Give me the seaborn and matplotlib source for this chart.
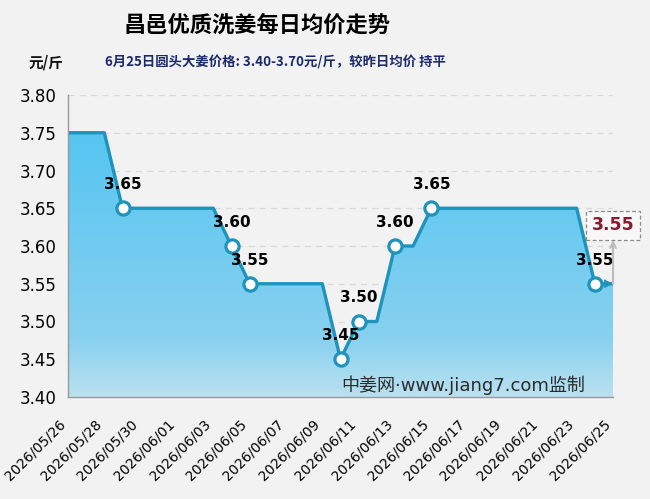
import numpy as np
import pandas as pd
import matplotlib
matplotlib.use("Agg")
import matplotlib.pyplot as plt
import matplotlib.dates as mdates
import matplotlib.transforms as mtrans
from matplotlib.colors import LinearSegmentedColormap
from matplotlib.patches import Polygon
import seaborn as sns

# ---------------- data ----------------
dates = pd.date_range("2026-05-26", "2026-06-25", freq="D")
prices = [3.75, 3.75, 3.75,
          3.65, 3.65, 3.65, 3.65, 3.65, 3.65,
          3.60,
          3.55, 3.55, 3.55, 3.55, 3.55,
          3.45,
          3.50, 3.50,
          3.60, 3.60,
          3.65, 3.65, 3.65, 3.65, 3.65, 3.65, 3.65, 3.65, 3.65,
          3.55, 3.55]
y_ticks = [3.40, 3.45, 3.50, 3.55, 3.60, 3.65, 3.70, 3.75, 3.80]
title = "昌邑优质洗姜每日均价走势"
unit_label = "元/斤"
subtitle = "6月25日圆头大姜价格: 3.40-3.70元/斤，较昨日均价 持平"
watermark = "中姜网·www.jiang7.com监制"
latest_value = 3.55

df = pd.DataFrame({"date": dates, "price": prices})

# ---------------- style ----------------
sns.set_style("white")
CJK = ["Noto Sans CJK SC", "DejaVu Sans"]
NUM = ["DejaVu Sans", "Noto Sans CJK SC"]
plt.rcParams["font.family"] = NUM
BG = "#f2f2f2"
LINE = "#1e94bd"

fig = plt.figure(figsize=(6.5, 4.99), dpi=100, facecolor=BG)
ax = fig.add_axes([68 / 650, 1 - 397 / 499, 545 / 650, 302 / 499])
ax.set_facecolor(BG)

xnum = mdates.date2num(df["date"])
x0, x1 = xnum[0], xnum[-1]
ax.set_xlim(x0, x1)
ax.set_ylim(y_ticks[0], y_ticks[-1])

# gradient fill under the line
cmap = LinearSegmentedColormap.from_list(
    "g", [(0.0, "#b9e1f0"), (0.2, "#87d0ef"), (1.0, "#4cc4f2")])
grad = np.linspace(0, 1, 256).reshape(-1, 1)
im = ax.imshow(grad, cmap=cmap, origin="lower", aspect="auto",
               extent=[x0, x1, y_ticks[0], y_ticks[-1]], zorder=1)
poly_xy = np.column_stack([np.r_[xnum, xnum[-1], xnum[0]],
                           np.r_[prices, y_ticks[0], y_ticks[0]]])
clip = Polygon(poly_xy, closed=True, transform=ax.transData, fc="none", ec="none")
ax.add_patch(clip)
im.set_clip_path(clip)

# grid
for yv in y_ticks[1:]:
    ax.axhline(yv, color="#d9d9d9", lw=0.9, ls=(0, (5, 4)), zorder=0.5)

# line
sns.lineplot(data=df, x="date", y="price", ax=ax, color=LINE, lw=2.4, zorder=3)

# end arrow head
ax.annotate("", xy=(xnum[-1], prices[-1]), xytext=(xnum[-2], prices[-2]),
            arrowprops=dict(arrowstyle="-|>", color=LINE, lw=0, mutation_scale=16,
                            shrinkA=0, shrinkB=0), zorder=4, annotation_clip=False)

# markers where price changed + labels
chg = [i for i in range(1, len(prices)) if prices[i] != prices[i - 1]]
ax.plot(xnum[chg], np.array(prices)[chg], "o", ms=9.5, mfc="white", mec=LINE,
        mew=2.3, zorder=5, clip_on=False)
for i in chg:
    ax.annotate(f"{prices[i]:.2f}", (xnum[i], prices[i]), xytext=(0, 17),
                textcoords="offset points", ha="center", va="center",
                fontsize=11, fontweight="bold", color="black", zorder=6)

# latest value box
ax.annotate(f"{latest_value:.2f}", xy=(xnum[-1], latest_value), xytext=(0, 42),
            textcoords="offset points", ha="center", va="center",
            fontsize=12.5, fontweight="bold", color="#8b1a2c",
            bbox=dict(boxstyle="square,pad=0.3", fc="#f7f7f7", ec="#8a8a8a",
                      ls=(0, (3, 2)), lw=0.9),
            arrowprops=dict(arrowstyle="<-", color="#bdbdbd", lw=1.5,
                            shrinkA=0, shrinkB=0, mutation_scale=10),
            annotation_clip=False, zorder=7)

# axes styling
for s in ["top", "right"]:
    ax.spines[s].set_visible(False)
for s in ["left", "bottom"]:
    ax.spines[s].set_color("#9a9a9a")
    ax.spines[s].set_linewidth(1.0)
    ax.spines[s].set_zorder(8)
ax.set_yticks(y_ticks)
ax.set_yticklabels([f"{v:.2f}" for v in y_ticks], fontsize=12, color="black")
ax.xaxis.set_major_locator(mdates.DayLocator(interval=2))
ax.xaxis.set_major_formatter(mdates.DateFormatter("%Y/%m/%d"))
ax.tick_params(axis="both", direction="out", color="#9a9a9a", length=5, width=1,
               labelcolor="black")
ax.tick_params(axis="y", pad=3)
ax.set_xlabel("")
ax.set_ylabel("")
offset = mtrans.ScaledTranslation(-10 / 100, -8 / 100, fig.dpi_scale_trans)
for lab in ax.get_xticklabels():
    lab.set_rotation(45)
    lab.set_ha("right")
    lab.set_va("top")
    lab.set_rotation_mode("anchor")
    lab.set_fontsize(10)
    lab.set_color("black")
    lab.set_transform(lab.get_transform() + offset)

# watermark
ax.text(463 / 650, 1 - 385 / 499, watermark, transform=fig.transFigure,
        ha="center", va="center", fontsize=13, color="#2b2b2b",
        family=["DejaVu Sans", "Noto Sans CJK SC"], zorder=9)

# titles
fig.text(257 / 650, 1 - 25 / 499, title, ha="center", va="center",
         fontsize=16, fontweight="bold", family=CJK, color="black")
fig.text(29 / 650, 1 - 62 / 499, unit_label, ha="left", va="center",
         fontsize=10.5, fontweight="bold", family=CJK, color="#111111")
fig.text(105 / 650, 1 - 62 / 499, subtitle, ha="left", va="center",
         fontsize=9.6, fontweight="bold", family=CJK, color="#1b2a6b")

fig.savefig("out.png", dpi=100, facecolor=BG)
